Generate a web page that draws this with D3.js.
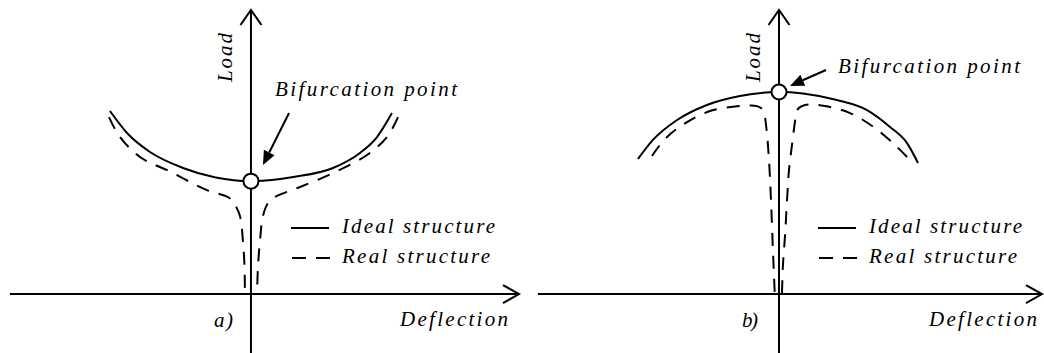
<!DOCTYPE html>
<html>
<head>
<meta charset="utf-8">
<script src="https://cdn.jsdelivr.net/npm/d3@7"></script>
<style>
  html, body { margin: 0; padding: 0; background: #fff; }
  svg { display: block; }
</style>
</head>
<body>
<svg id="chart" width="1044" height="353"></svg>
<script>
// ---- Panel a): unstable-symmetric (load rises after bifurcation) ----
const deflA_ideal = [-1.0, -0.879, -0.716, -0.482, -0.25, 0, 0.30, 0.582, 0.773, 0.894, 1.0];
const loadA_ideal = [1.0, 0.880, 0.776, 0.689, 0.637, 0.617, 0.640, 0.689, 0.771, 0.858, 0.989];

const deflA_realL = [-1.007, -0.929, -0.787, -0.582, -0.312, -0.163, -0.121, -0.078, -0.057, -0.046, -0.043];
const loadA_realL = [0.967, 0.858, 0.749, 0.672, 0.568, 0.530, 0.497, 0.426, 0.290, 0.153, 0];
const deflA_realR = [1.043, 0.965, 0.823, 0.582, 0.348, 0.170, 0.121, 0.085, 0.064, 0.050, 0.043];
const loadA_realR = [0.967, 0.858, 0.760, 0.661, 0.585, 0.530, 0.497, 0.426, 0.290, 0.153, 0];

const bifurcationA = [0, 0.617];

// ---- Panel b): stable-symmetric (load falls after bifurcation) ----
const deflB_ideal = [-1.0, -0.894, -0.723, -0.511, -0.277, 0, 0.170, 0.411, 0.624, 0.787, 0.908, 0.986];
const loadB_ideal = [0.738, 0.842, 0.951, 1.033, 1.082, 1.104, 1.096, 1.060, 1.005, 0.913, 0.825, 0.716];

const deflB_realL = [-0.901, -0.809, -0.674, -0.489, -0.277, -0.156, -0.113, -0.092, -0.071, -0.057, -0.043, -0.030];
const loadB_realL = [0.754, 0.847, 0.929, 1.000, 1.027, 1.027, 1.005, 0.923, 0.732, 0.514, 0.240, 0];
const deflB_realR = [0.908, 0.823, 0.681, 0.504, 0.326, 0.184, 0.128, 0.113, 0.092, 0.071, 0.057, 0.043, 0.028, 0.021];
const loadB_realR = [0.749, 0.814, 0.907, 0.989, 1.027, 1.033, 1.005, 0.940, 0.814, 0.678, 0.514, 0.322, 0.158, 0];

const bifurcationB = [0, 1.104];

// Axis extents (deflection, load)
const deflExtentA = [-1.709, 1.901];
const deflExtentB = [-1.709, 1.865];
const loadExtent = [-0.322, 1.552];

// Annotation arrows: [start, tip] in (deflection, load)
const arrowA = [[0.270, 0.989], [0.085, 0.705]];
const arrowB = [[0.333, 1.224], [0.078, 1.137]];

// Text
const panelLabels = ["a)", "b)"];
const axisLabelX = "Deflection";
const axisLabelY = "Load";
const pointLabel = "Bifurcation point";
const legendLabels = ["Ideal structure", "Real structure"];

const svg = d3.select("#chart");
const DASH = "13,10";
const SW = 2;

function zip(xs, ys) { return xs.map((x, i) => [x, ys[i]]); }

// Serif italic label whose characters are placed individually so the
// whole string spans `width` pixels (wide math-italic spacing).
function label(parent, txt, x0, y0, width) {
  const t = parent.append("text")
    .attr("x", x0).attr("y", y0)
    .attr("font-family", "Liberation Serif")
    .attr("font-style", "italic")
    .attr("font-size", 21)
    .attr("fill", "#000")
    .text(txt);
  const node = t.node();
  const n = txt.length;
  const natural = node.getComputedTextLength();
  const extra = n > 1 ? (width - natural) / (n - 1) : 0;
  const xs = [];
  for (let i = 0; i < n; i++) xs.push((node.getStartPositionOfChar(i).x + i * extra).toFixed(2));
  t.attr("x", xs.join(" "));
  return t;
}

function drawPanel(p) {
  const x = d3.scaleLinear().domain(p.deflExtent).range(p.xRange);
  const y = d3.scaleLinear().domain(loadExtent).range([353, 10]);
  const g = svg.append("g");

  const smooth = d3.line().x(d => x(d[0])).y(d => y(d[1])).curve(d3.curveMonotoneX);
  const line = d3.line().x(d => x(d[0])).y(d => y(d[1])).curve(d3.curveCatmullRom.alpha(0.5));
  const straight = d3.line().x(d => x(d[0])).y(d => y(d[1]));

  // axes
  const xAxisPts = [[p.deflExtent[0], 0], [p.deflExtent[1], 0]];
  const yAxisPts = [[0, loadExtent[0]], [0, loadExtent[1]]];
  g.append("path").attr("d", straight(xAxisPts)).attr("stroke", "#000").attr("stroke-width", SW).attr("fill", "none");
  g.append("path").attr("d", straight(yAxisPts)).attr("stroke", "#000").attr("stroke-width", SW).attr("fill", "none");

  // open chevron arrowheads
  const tx = x(p.deflExtent[1]), ty = y(0);
  g.append("path").attr("d", `M${tx - 16},${ty - 9}L${tx},${ty}L${tx - 16},${ty + 9}`)
    .attr("stroke", "#000").attr("stroke-width", SW).attr("fill", "none");
  const ux = x(0), uy = y(loadExtent[1]);
  g.append("path").attr("d", `M${ux - 10.5},${uy + 15}L${ux},${uy}L${ux + 10.5},${uy + 15}`)
    .attr("stroke", "#000").attr("stroke-width", SW).attr("fill", "none");

  // real structure (dashed)
  [p.realL, p.realR].forEach(pts => {
    g.append("path").attr("d", line(pts)).attr("stroke", "#000").attr("stroke-width", SW)
      .attr("stroke-dasharray", DASH).attr("fill", "none");
  });

  // ideal structure (solid)
  g.append("path").attr("d", smooth(p.ideal)).attr("stroke", "#000").attr("stroke-width", SW).attr("fill", "none");

  // bifurcation point
  g.append("circle").attr("cx", x(p.bif[0])).attr("cy", y(p.bif[1])).attr("r", 7.5)
    .attr("fill", "#fff").attr("stroke", "#000").attr("stroke-width", SW);

  // annotation arrow
  const [s, t] = p.arrow;
  const sx = x(s[0]), sy = y(s[1]), ex = x(t[0]), ey = y(t[1]);
  const ang = Math.atan2(ey - sy, ex - sx);
  const hl = 14, hw = 6;
  const bx = ex - hl * Math.cos(ang), by = ey - hl * Math.sin(ang);
  g.append("line").attr("x1", sx).attr("y1", sy).attr("x2", bx).attr("y2", by)
    .attr("stroke", "#000").attr("stroke-width", SW);
  g.append("path")
    .attr("d", `M${ex},${ey}L${bx + hw * Math.sin(ang)},${by - hw * Math.cos(ang)}L${bx - hw * Math.sin(ang)},${by + hw * Math.cos(ang)}Z`)
    .attr("fill", "#000");

  // legend
  const L = p.legend;
  g.append("line").attr("x1", L.x).attr("x2", L.x + 38).attr("y1", L.y).attr("y2", L.y)
    .attr("stroke", "#000").attr("stroke-width", SW);
  g.append("line").attr("x1", L.x + 1).attr("x2", L.x + 39).attr("y1", L.y + 30).attr("y2", L.y + 30)
    .attr("stroke", "#000").attr("stroke-width", SW).attr("stroke-dasharray", "14,10");

  label(g, legendLabels[0], L.x + 51, L.y + 5, 153);
  label(g, legendLabels[1], L.x + 51, L.y + 35, 148);
  label(g, pointLabel, p.pointText[0], p.pointText[1], 182);
  label(g, axisLabelX, p.deflText[0], p.deflText[1], 108);
  label(g, p.label, p.labelPos[0], p.labelPos[1], p.labelLen);

  // rotated axis title: laid out from local origin, then turned upright
  const lg = g.append("g").attr("transform", `translate(${p.loadText[0]},${p.loadText[1] + 24.5}) rotate(-90)`);
  label(lg, axisLabelY, 0, 0, 49);
}

drawPanel({
  deflExtent: deflExtentA, xRange: [10, 519],
  ideal: zip(deflA_ideal, loadA_ideal),
  realL: zip(deflA_realL, loadA_realL),
  realR: zip(deflA_realR, loadA_realR),
  bif: bifurcationA, arrow: arrowA,
  legend: { x: 291, y: 228 },
  pointText: [275, 96], deflText: [400, 326],
  label: panelLabels[0], labelPos: [214, 327], labelLen: 19,
  loadText: [232, 57.5]
});

drawPanel({
  deflExtent: deflExtentB, xRange: [538, 1042],
  ideal: zip(deflB_ideal, loadB_ideal),
  realL: zip(deflB_realL, loadB_realL),
  realR: zip(deflB_realR, loadB_realR),
  bif: bifurcationB, arrow: arrowB,
  legend: { x: 818, y: 228 },
  pointText: [838, 73], deflText: [929, 326],
  label: panelLabels[1], labelPos: [742, 327], labelLen: 16,
  loadText: [760, 57.5]
});
</script>
</body>
</html>
